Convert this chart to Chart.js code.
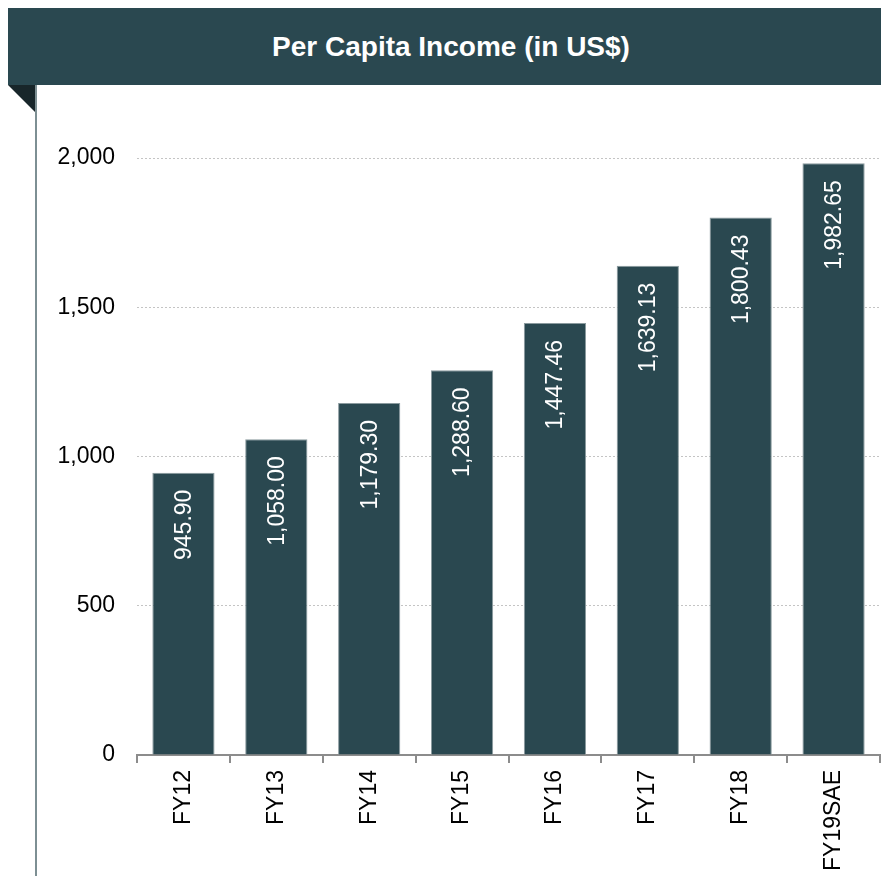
<!DOCTYPE html>
<html>
<head>
<meta charset="utf-8">
<script src="https://cdn.jsdelivr.net/npm/chart.js@4.4.1/dist/chart.umd.min.js"></script>
<style>
  html, body { margin: 0; padding: 0; background: #fff; }
  #wrap { position: relative; width: 881px; height: 876px; overflow: hidden; }
  #banner {
    position: absolute; left: 8px; top: 8px; width: 886px; height: 77px;
    background: #2a4850; color: #fff;
    font: bold 28px "Liberation Sans", Arial, sans-serif;
    display: flex; align-items: center; justify-content: center;
  }
  #fold {
    position: absolute; left: 8px; top: 85px; width: 0; height: 0;
    border-top: 28px solid #18262a; border-left: 28px solid transparent;
  }
  #rule { position: absolute; left: 35px; top: 85px; width: 2px; height: 791px; background: #7d8f93; }
  #chartBox { position: absolute; left: 0; top: 0; width: 881px; height: 876px; }
</style>
</head>
<body>
<div id="wrap">
  <div id="banner">Per Capita Income (in US$)</div>
  <div id="fold"></div>
  <div id="rule"></div>
  <div id="chartBox"><canvas id="incomeChart" width="881" height="876"></canvas></div>
</div>
<script>
const years = ['FY12', 'FY13', 'FY14', 'FY15', 'FY16', 'FY17', 'FY18', 'FY19SAE'];
const income = [945.90, 1058.00, 1179.30, 1288.60, 1447.46, 1639.13, 1800.43, 1982.65];
const yTicks = [0, 500, 1000, 1500, 2000];

const fmt = (v, d) => v.toLocaleString('en-US', { minimumFractionDigits: d, maximumFractionDigits: d });

// value labels written vertically inside the top of each bar
const barLabels = {
  id: 'barLabels',
  afterDatasetsDraw(chart) {
    const { ctx } = chart;
    const meta = chart.getDatasetMeta(0);
    ctx.save();
    ctx.fillStyle = '#ffffff';
    ctx.font = '23px "Liberation Sans", Arial, sans-serif';
    ctx.textAlign = 'right';
    ctx.textBaseline = 'middle';
    meta.data.forEach((bar, i) => {
      ctx.save();
      ctx.translate(bar.x, bar.y + 17);
      ctx.rotate(-Math.PI / 2);
      ctx.fillText(fmt(income[i], 2), 0, 1);
      ctx.restore();
    });
    ctx.restore();
  }
};

new Chart(document.getElementById('incomeChart'), {
  type: 'bar',
  data: {
    labels: years,
    datasets: [{
      data: income,
      backgroundColor: '#2a4850',
      borderColor: '#8a9a9e',
      borderWidth: { left: 1, right: 1, top: 1, bottom: 0 },
      borderSkipped: 'bottom',
      barPercentage: 0.67,
      categoryPercentage: 1
    }]
  },
  options: {
    responsive: false,
    animation: false,
    layout: { padding: { top: 158, right: 1, left: 0, bottom: 0 } },
    plugins: { legend: { display: false }, tooltip: { enabled: false } },
    scales: {
      x: {
        afterFit(s) { s.height = 121; },
        border: { color: '#8c8c8c', width: 2 },
        grid: { drawOnChartArea: false, color: '#8c8c8c', tickLength: 8, lineWidth: 2 },
        ticks: {
          color: '#000',
          font: { family: '"Liberation Sans", Arial, sans-serif', size: 23 },
          minRotation: 90, maxRotation: 90, padding: 7
        }
      },
      y: {
        min: 0, max: 2000,
        afterFit(s) { s.width = 137; },
        afterBuildTicks(s) { s.ticks = yTicks.map(v => ({ value: v })); },
        // dash on border also styles the grid lines in v4
        border: { display: false, dash: [2, 2] },
        grid: { color: '#c4c4c4', drawTicks: false },
        ticks: {
          color: '#000',
          padding: 22,
          font: { family: '"Liberation Sans", Arial, sans-serif', size: 23 },
          callback: v => fmt(v, 0)
        }
      }
    }
  },
  plugins: [barLabels]
});
</script>
</body>
</html>
